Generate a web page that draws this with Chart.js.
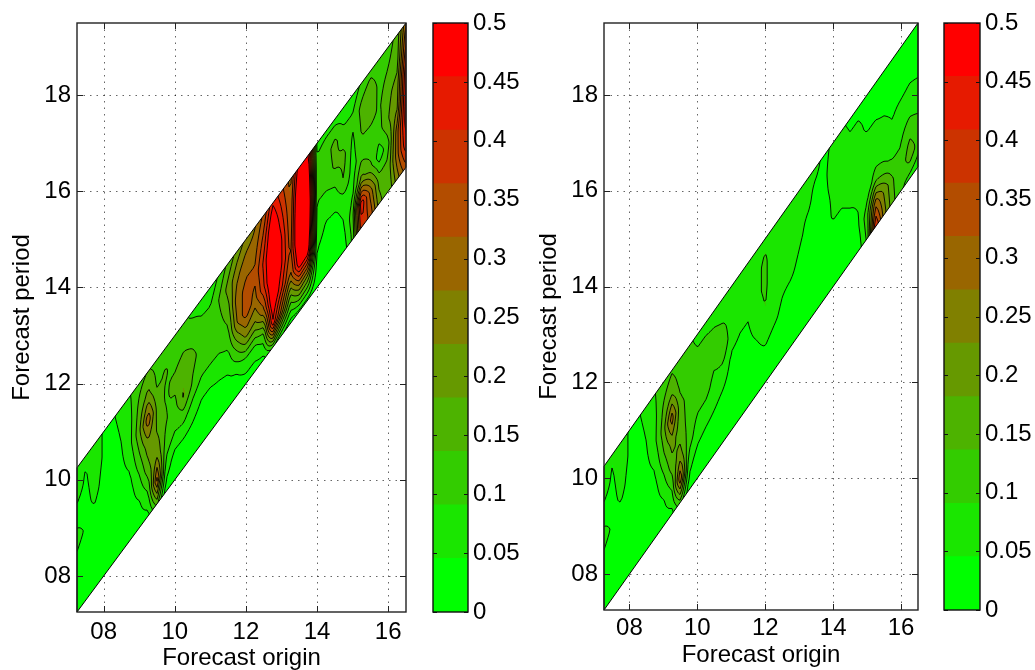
<!DOCTYPE html>
<html>
<head>
<meta charset="utf-8">
<script src="https://cdn.jsdelivr.net/npm/chart.js@4"></script>
<style>
  body { margin: 0; background: #fff; overflow: hidden; }
  #wrap { position: relative; width: 1035px; height: 670px; }
  canvas { position: absolute; top: 0; }
</style>
</head>
<body>
<div id="wrap">
  <canvas id="leftMap" width="420" height="670" style="left:0px"></canvas>
  <canvas id="leftBar" width="100" height="670" style="left:420px"></canvas>
  <canvas id="rightMap" width="410" height="670" style="left:527px"></canvas>
  <canvas id="rightBar" width="105" height="670" style="left:930px"></canvas>
</div>
<script>
// forecast origins (x) and lead times (period = origin + lead)
const origins = [7.25, 7.5, 7.75, 8, 8.25, 8.5, 8.75, 9, 9.25, 9.5, 9.75, 10, 10.25, 10.5, 10.75, 11,
  11.25, 11.5, 11.75, 12, 12.25, 12.5, 12.75, 13, 13.25, 13.5, 13.75, 14, 14.25, 14.5, 14.75, 15,
  15.25, 15.5, 15.75, 16, 16.25, 16.5];
const leads = [0, 0.5, 1, 1.5, 2, 2.5, 3];

// one row per origin, one value per lead
const leftValues = [
  [0.01, 0.02, 0.03, 0.06, 0.03, 0.06, 0.06],
  [0.01, 0.02, 0.02, 0.04, 0.03, 0.04, 0.05],
  [0.01, 0.02, 0.02, 0.03, 0.06, 0.07, 0.07],
  [0.01, 0.01, 0.02, 0.02, 0.03, 0.04, 0.04],
  [0.01, 0.01, 0.02, 0.02, 0.03, 0.03, 0.04],
  [0.01, 0.01, 0.02, 0.03, 0.04, 0.05, 0.06],
  [0.01, 0.02, 0.03, 0.05, 0.08, 0.08, 0.09],
  [0.02, 0.04, 0.08, 0.13, 0.17, 0.15, 0.12],
  [0.03, 0.09, 0.17, 0.21, 0.31, 0.2, 0.14],
  [0.15, 0.33, 0.22, 0.18, 0.17, 0.13, 0.12],
  [0.02, 0.07, 0.12, 0.14, 0.13, 0.14, 0.12],
  [0.01, 0.03, 0.09, 0.12, 0.15, 0.12, 0.1],
  [0.01, 0.03, 0.1, 0.19, 0.17, 0.13, 0.1],
  [0.01, 0.03, 0.07, 0.13, 0.15, 0.12, 0.08],
  [0.01, 0.02, 0.05, 0.1, 0.12, 0.1, 0.07],
  [0.01, 0.02, 0.05, 0.1, 0.11, 0.1, 0.06],
  [0.01, 0.02, 0.06, 0.1, 0.12, 0.14, 0.1],
  [0.01, 0.03, 0.07, 0.12, 0.16, 0.2, 0.15],
  [0.01, 0.05, 0.15, 0.27, 0.3, 0.26, 0.2],
  [0.02, 0.08, 0.24, 0.35, 0.33, 0.3, 0.24],
  [0.02, 0.08, 0.22, 0.3, 0.33, 0.3, 0.27],
  [0.03, 0.12, 0.3, 0.4, 0.42, 0.38, 0.33],
  [0.1, 0.45, 0.52, 0.55, 0.55, 0.52, 0.45],
  [0.05, 0.3, 0.42, 0.46, 0.46, 0.42, 0.38],
  [0.02, 0.15, 0.3, 0.35, 0.33, 0.32, 0.3],
  [0.03, 0.25, 0.5, 0.56, 0.58, 0.56, 0.5],
  [0.03, 0.22, 0.48, 0.54, 0.56, 0.52, 0.47],
  [0.01, 0.03, 0.06, 0.08, 0.1, 0.1, 0.08],
  [0.01, 0.02, 0.04, 0.06, 0.12, 0.12, 0.08],
  [0.01, 0.02, 0.04, 0.08, 0.14, 0.15, 0.07],
  [0.02, 0.04, 0.06, 0.14, 0.15, 0.1, 0.06],
  [0.1, 0.12, 0.08, 0.07, 0.08, 0.1, 0.06],
  [0.4, 0.45, 0.2, 0.12, 0.14, 0.15, 0.1],
  [0.35, 0.3, 0.15, 0.1, 0.15, 0.18, 0.12],
  [0.2, 0.16, 0.06, 0.12, 0.13, 0.12, 0.1],
  [0.14, 0.15, 0.12, 0.18, 0.17, 0.14, 0.12],
  [0.25, 0.3, 0.3, 0.22, 0.2, 0.16, 0.15],
  [0.35, 0.45, 0.48, 0.48, 0.45, 0.38, 0.32]
];

const rightValues = [
  [0.01, 0.02, 0.03, 0.06, 0.03, 0.06, 0.06],
  [0.01, 0.02, 0.02, 0.04, 0.03, 0.04, 0.05],
  [0.01, 0.02, 0.02, 0.03, 0.06, 0.07, 0.07],
  [0.01, 0.01, 0.02, 0.02, 0.03, 0.04, 0.04],
  [0.01, 0.01, 0.02, 0.02, 0.03, 0.03, 0.04],
  [0.01, 0.01, 0.02, 0.03, 0.04, 0.05, 0.06],
  [0.01, 0.02, 0.03, 0.05, 0.08, 0.08, 0.09],
  [0.02, 0.04, 0.08, 0.13, 0.16, 0.14, 0.11],
  [0.03, 0.09, 0.16, 0.2, 0.3, 0.18, 0.13],
  [0.12, 0.32, 0.2, 0.16, 0.15, 0.12, 0.1],
  [0.02, 0.06, 0.11, 0.12, 0.12, 0.12, 0.1],
  [0.01, 0.03, 0.07, 0.1, 0.12, 0.1, 0.08],
  [0.01, 0.02, 0.06, 0.1, 0.11, 0.1, 0.08],
  [0.01, 0.02, 0.05, 0.08, 0.1, 0.1, 0.07],
  [0.01, 0.02, 0.04, 0.07, 0.14, 0.09, 0.06],
  [0.01, 0.02, 0.03, 0.04, 0.06, 0.07, 0.05],
  [0.01, 0.02, 0.03, 0.04, 0.05, 0.07, 0.06],
  [0.01, 0.02, 0.03, 0.04, 0.05, 0.06, 0.06],
  [0.01, 0.02, 0.04, 0.06, 0.08, 0.08, 0.07],
  [0.01, 0.03, 0.06, 0.09, 0.1, 0.1, 0.08],
  [0.01, 0.02, 0.05, 0.06, 0.06, 0.06, 0.05],
  [0.01, 0.02, 0.04, 0.05, 0.06, 0.06, 0.05],
  [0.01, 0.02, 0.03, 0.05, 0.06, 0.06, 0.05],
  [0.01, 0.02, 0.03, 0.04, 0.05, 0.05, 0.05],
  [0.01, 0.02, 0.02, 0.03, 0.04, 0.05, 0.05],
  [0.01, 0.02, 0.02, 0.03, 0.04, 0.04, 0.05],
  [0.01, 0.02, 0.02, 0.03, 0.04, 0.04, 0.04],
  [0.01, 0.02, 0.03, 0.05, 0.05, 0.06, 0.05],
  [0.01, 0.02, 0.03, 0.05, 0.06, 0.06, 0.05],
  [0.01, 0.02, 0.04, 0.06, 0.06, 0.05, 0.04],
  [0.02, 0.04, 0.05, 0.06, 0.05, 0.05, 0.04],
  [0.1, 0.12, 0.06, 0.06, 0.05, 0.04, 0.03],
  [0.42, 0.3, 0.12, 0.06, 0.05, 0.04, 0.03],
  [0.25, 0.22, 0.1, 0.06, 0.047, 0.035, 0.03],
  [0.15, 0.14, 0.08, 0.05, 0.04, 0.03, 0.03],
  [0.1, 0.1, 0.09, 0.07, 0.04, 0.03, 0.03],
  [0.07, 0.17, 0.12, 0.07, 0.045, 0.04, 0.03],
  [0.06, 0.12, 0.1, 0.06, 0.04, 0.03, 0.03]
];

const xTicks = [8, 10, 12, 14, 16];
const yTicks = [8, 10, 12, 14, 16, 18];
const barTicks = [0, 0.05, 0.1, 0.15, 0.2, 0.25, 0.3, 0.35, 0.4, 0.45, 0.5];
const palette = ['#00ff00', '#1ae600', '#33cc00', '#4db300', '#669900', '#808000',
  '#996600', '#b34d00', '#cc3300', '#e61a00', '#ff0000'];
const vMax = 0.5;

Chart.defaults.font.family = 'Liberation Sans, Arial, Helvetica, sans-serif';
Chart.defaults.font.size = 24;
Chart.defaults.color = '#000';

const rgb = palette.map(c => [1, 3, 5].map(i => parseInt(c.substr(i, 2), 16)));
const bandOf = v => Math.min(palette.length - 1, Math.max(0, Math.floor(v / (vMax / palette.length))));

// value at a point of the plot (bilinear in origin / lead)
function fieldAt(vals, X, Y) {
  const o = Math.min(origins[origins.length - 1], Math.max(origins[0], X));
  const l = Math.min(leads[leads.length - 1], Math.max(leads[0], Y - X));
  const fi = (o - origins[0]) / (origins[1] - origins[0]);
  const fj = (l - leads[0]) / (leads[1] - leads[0]);
  const i = Math.min(origins.length - 2, Math.floor(fi));
  const j = Math.min(leads.length - 2, Math.floor(fj));
  const tx = fi - i, ty = fj - j;
  return (vals[i][j] * (1 - tx) + vals[i + 1][j] * tx) * (1 - ty) +
         (vals[i][j + 1] * (1 - tx) + vals[i + 1][j + 1] * tx) * ty;
}

const pad2 = v => (v < 10 ? '0' + v : '' + v);

const contourPlugin = {
  id: 'contour',
  beforeDatasetsDraw(chart) {
    const { ctx, chartArea: a, scales: { x, y } } = chart;
    const vals = chart.data.datasets[0].field;

    // dotted grid
    ctx.save();
    ctx.strokeStyle = 'rgba(0,0,0,0.6)';
    ctx.lineWidth = 1;
    ctx.setLineDash([1.5, 5]);
    ctx.beginPath();
    xTicks.forEach(v => {
      const px = Math.round(x.getPixelForValue(v)) + 0.5;
      ctx.moveTo(px, a.top); ctx.lineTo(px, a.bottom);
    });
    yTicks.forEach(v => {
      const py = Math.round(y.getPixelForValue(v)) + 0.5;
      ctx.moveTo(a.left, py); ctx.lineTo(a.right, py);
    });
    ctx.stroke();
    ctx.restore();

    // filled bands
    const w = Math.ceil(a.right - a.left), h = Math.ceil(a.bottom - a.top);
    const xs = [], ys = [];
    for (let i = 0; i < w; i++) xs.push(x.getValueForPixel(a.left + i + 0.5));
    for (let j = 0; j < h; j++) ys.push(y.getValueForPixel(a.top + j + 0.5));
    const off = document.createElement('canvas');
    off.width = w; off.height = h;
    const octx = off.getContext('2d');
    const img = octx.createImageData(w, h);
    for (let j = 0; j < h; j++) {
      for (let i = 0; i < w; i++) {
        const c = rgb[bandOf(fieldAt(vals, xs[i], ys[j]))];
        const k = (j * w + i) * 4;
        img.data[k] = c[0]; img.data[k + 1] = c[1]; img.data[k + 2] = c[2]; img.data[k + 3] = 255;
      }
    }
    octx.putImageData(img, 0, 0);

    const x0 = origins[0], x1 = origins[origins.length - 1], lMax = leads[leads.length - 1];
    const bandPath = () => {
      ctx.beginPath();
      ctx.moveTo(x.getPixelForValue(x0), y.getPixelForValue(x0));
      ctx.lineTo(x.getPixelForValue(x1), y.getPixelForValue(x1));
      ctx.lineTo(x.getPixelForValue(x1), y.getPixelForValue(x1 + lMax));
      ctx.lineTo(x.getPixelForValue(x0), y.getPixelForValue(x0 + lMax));
      ctx.closePath();
    };

    ctx.save();
    bandPath();
    ctx.clip();
    ctx.drawImage(off, a.left, a.top);

    // contour lines (marching squares)
    const step = 2;
    const nx = Math.ceil(w / step) + 1, ny = Math.ceil(h / step) + 1;
    const F = [];
    for (let j = 0; j < ny; j++) {
      const row = [];
      const Y = y.getValueForPixel(a.top + j * step);
      for (let i = 0; i < nx; i++) row.push(fieldAt(vals, x.getValueForPixel(a.left + i * step), Y));
      F.push(row);
    }
    ctx.strokeStyle = '#000';
    ctx.lineWidth = 0.9;
    ctx.beginPath();
    for (let k = 1; k < palette.length; k++) {
      const L = k * vMax / palette.length;
      for (let j = 0; j < ny - 1; j++) {
        for (let i = 0; i < nx - 1; i++) {
          const v = [F[j][i], F[j][i + 1], F[j + 1][i + 1], F[j + 1][i]];
          const px = a.left + i * step, py = a.top + j * step;
          const c = [[px, py], [px + step, py], [px + step, py + step], [px, py + step]];
          const pts = [];
          for (let e = 0; e < 4; e++) {
            const va = v[e], vb = v[(e + 1) % 4];
            if ((va < L) !== (vb < L)) {
              const t = (L - va) / (vb - va);
              const pa = c[e], pb = c[(e + 1) % 4];
              pts.push([pa[0] + t * (pb[0] - pa[0]), pa[1] + t * (pb[1] - pa[1])]);
            }
          }
          if (pts.length >= 2) { ctx.moveTo(pts[0][0], pts[0][1]); ctx.lineTo(pts[1][0], pts[1][1]); }
          if (pts.length === 4) { ctx.moveTo(pts[2][0], pts[2][1]); ctx.lineTo(pts[3][0], pts[3][1]); }
        }
      }
    }
    ctx.stroke();
    ctx.restore();

    ctx.save();
    ctx.strokeStyle = '#000';
    ctx.lineWidth = 1;
    bandPath();
    ctx.stroke();
    ctx.restore();
  },
  afterDraw(chart) {
    const { ctx, chartArea: a, scales: { x, y } } = chart;
    ctx.save();
    ctx.strokeStyle = '#222';
    ctx.lineWidth = 1.4;
    ctx.strokeRect(a.left, a.top, a.right - a.left, a.bottom - a.top);
    ctx.beginPath();
    xTicks.forEach(v => {
      const px = Math.round(x.getPixelForValue(v)) + 0.5;
      ctx.moveTo(px, a.bottom); ctx.lineTo(px, a.bottom - 6);
      ctx.moveTo(px, a.top); ctx.lineTo(px, a.top + 6);
    });
    yTicks.forEach(v => {
      const py = Math.round(y.getPixelForValue(v)) + 0.5;
      ctx.moveTo(a.left, py); ctx.lineTo(a.left + 6, py);
      ctx.moveTo(a.right, py); ctx.lineTo(a.right - 6, py);
    });
    ctx.lineWidth = 1;
    ctx.stroke();
    ctx.restore();
  }
};

const barFrame = {
  id: 'barFrame',
  afterDraw(chart) {
    const { ctx, chartArea: a, scales: { y } } = chart;
    ctx.save();
    ctx.strokeStyle = '#111';
    ctx.lineWidth = 1.4;
    ctx.strokeRect(a.left, a.top, a.right - a.left, a.bottom - a.top);
    ctx.lineWidth = 1;
    ctx.beginPath();
    barTicks.forEach(v => {
      const py = Math.round(y.getPixelForValue(v)) + 0.5;
      ctx.moveTo(a.left, py); ctx.lineTo(a.left + 4, py);
      ctx.moveTo(a.right, py); ctx.lineTo(a.right - 4, py);
    });
    ctx.stroke();
    ctx.restore();
  }
};

function makeMap(id, values, padRight, padBottom, axisH, tickPad) {
  const points = [];
  origins.forEach((o, i) => leads.forEach((l, j) => points.push({ x: o, y: o + l, v: values[i][j] })));
  return new Chart(document.getElementById(id), {
    type: 'scatter',
    data: { datasets: [{ data: points, field: values, pointRadius: 0, pointHoverRadius: 0 }] },
    options: {
      responsive: false,
      animation: false,
      events: [],
      layout: { padding: { left: 0, right: padRight, top: 23, bottom: padBottom } },
      plugins: { legend: { display: false }, tooltip: { enabled: false } },
      scales: {
        x: {
          type: 'linear', min: 7.25, max: 16.5,
          afterBuildTicks: s => { s.ticks = xTicks.map(v => ({ value: v })); },
          afterFit: s => { s.height = axisH; },
          grid: { display: false, drawTicks: false },
          border: { display: false },
          ticks: { padding: tickPad, maxRotation: 0, callback: v => pad2(v) },
          title: { display: true, text: 'Forecast origin', font: { size: 24, lineHeight: 1 }, padding: 0 }
        },
        y: {
          type: 'linear', min: 7.25, max: 19.5,
          afterBuildTicks: s => { s.ticks = yTicks.map(v => ({ value: v })); },
          afterFit: s => { s.width = 77; },
          grid: { display: false, drawTicks: false },
          border: { display: false },
          ticks: { padding: 6, callback: v => pad2(v) },
          title: { display: true, text: 'Forecast period', font: { size: 24, lineHeight: 1 }, padding: { top: 10, bottom: 0 } }
        }
      }
    },
    plugins: [contourPlugin]
  });
}

function makeBar(id, padLeft, padBottom, axisW) {
  return new Chart(document.getElementById(id), {
    type: 'bar',
    data: {
      labels: [''],
      datasets: palette.map(c => ({
        data: [vMax / palette.length], backgroundColor: c, borderWidth: 0,
        barPercentage: 1, categoryPercentage: 1
      }))
    },
    options: {
      responsive: false,
      animation: false,
      events: [],
      layout: { padding: { left: padLeft, right: 0, top: 23, bottom: padBottom } },
      plugins: { legend: { display: false }, tooltip: { enabled: false } },
      scales: {
        x: { display: false, stacked: true },
        y: {
          stacked: true, position: 'right', min: 0, max: vMax,
          afterBuildTicks: s => { s.ticks = barTicks.map(v => ({ value: v })); },
          afterFit: s => { s.width = axisW; },
          grid: { display: false, drawTicks: false },
          border: { display: false },
          ticks: { padding: 5, callback: v => String(+Number(v).toFixed(2)) }
        }
      }
    },
    plugins: [barFrame]
  });
}

makeMap('leftMap', leftValues, 14, 0, 58, 6);
makeBar('leftBar', 13, 58, 52);
makeMap('rightMap', rightValues, 19, 3, 57, 4);
makeBar('rightBar', 14, 60, 55);
</script>
</body>
</html>
